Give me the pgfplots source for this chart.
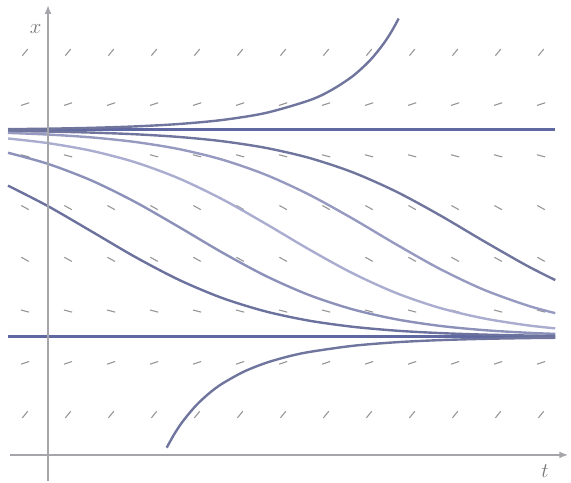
\documentclass[border=0pt]{standalone}
\usepackage{pgfplots}
\pgfplotsset{compat=1.18}
\usepackage{pgfplotstable}
\usetikzlibrary{arrows.meta}
\definecolor{eqc}{RGB}{95,104,160}
\definecolor{cA}{RGB}{112,117,158}
\definecolor{cB}{RGB}{150,154,192}
\definecolor{cC}{RGB}{170,173,207}
\definecolor{cD}{RGB}{140,145,185}
\definecolor{cE}{RGB}{108,114,158}
\definecolor{cU}{RGB}{112,117,158}
\definecolor{dashc}{RGB}{150,150,150}
\definecolor{axc}{RGB}{165,165,170}
\definecolor{labc}{RGB}{118,118,118}

% column positions of the slope field (t values), column index k
\pgfplotstableread{
t k
-0.264 0
0.230 1
0.725 2
1.219 3
1.713 4
2.208 5
2.702 6
3.196 7
3.690 8
4.185 9
4.679 10
5.173 11
5.667 12
}\cols

\begin{document}
\begin{tikzpicture}
\begin{axis}[
  scale only axis, width=571pt, height=481pt,
  xmin=-0.552, xmax=6.011, ymin=-0.696, ymax=1.628,
  hide axis, clip=false]
\path (rel axis cs:0,0) rectangle (rel axis cs:1,1);

% slope field
\addplot[dashc, line width=1.1pt, no markers, quiver={u=0.06173, v=0.03183}] table[x expr=\thisrow{t}-0.030865, y expr=1.359085] {\cols};
\addplot[dashc, line width=1.1pt, no markers, quiver={u=0.09265, v=0.013026}] table[x expr=\thisrow{t}-0.046325, y expr=1.118487] {\cols};
\addplot[dashc, line width=1.1pt, no markers, quiver={u=0.09455, v=-0.010340}] table[x expr=\thisrow{t}-0.047275, y expr=0.88017] {\cols};
\addplot[dashc, line width=1.1pt, no markers, quiver={u=0.08534, v=-0.019999}] table[x expr=\thisrow{t}-0.04267, y expr=0.635] {\cols};
\addplot[dashc, line width=1.1pt, no markers, quiver={u=0.08534, v=-0.019999}] table[x expr=\thisrow{t}-0.04267, y expr=0.385] {\cols};
\addplot[dashc, line width=1.1pt, no markers, quiver={u=0.09455, v=-0.010340}] table[x expr=\thisrow{t}-0.047275, y expr=0.13017] {\cols};
\addplot[dashc, line width=1.1pt, no markers, quiver={u=0.09265, v=0.013026}] table[x expr=\thisrow{t}-0.046325, y expr=-0.131513] {\cols};
\addplot[dashc, line width=1.1pt, no markers, quiver={u=0.06173, v=0.03183}] table[x expr=\thisrow{t}-0.030865, y expr=-0.390915] {\cols};

% equilibria
\addplot[eqc, line width=3pt, no markers] coordinates {(-0.46,1) (5.83,1)};
\addplot[eqc, line width=3pt, no markers] coordinates {(-0.46,0) (5.83,0)};

% solutions between equilibria
\addplot[cA, line width=2.4pt, no markers, smooth] coordinates {
(-0.46,0.99513) (0,0.99231) (0.5,0.98738) (1,0.97936) (1.5,0.96643) (2,0.94583) (2.5,0.91373) (3,0.86528) (3.5,0.79576) (4,0.70265) (4.5,0.58904) (5,0.46506) (5.5,0.34525) (5.83,0.27488)};
\addplot[cB, line width=2.4pt, no markers, smooth] coordinates {
(-0.46,0.98594) (0,0.97790) (0.5,0.96407) (1,0.94211) (1.5,0.90802) (2,0.85693) (2.5,0.78415) (3,0.68783) (3.5,0.57200) (4,0.44769) (4.5,0.32959) (5,0.22970) (5.5,0.15316) (5.83,0.11507)};
\addplot[cC, line width=2.4pt, no markers, smooth] coordinates {
(-0.46,0.95891) (0,0.93644) (0.5,0.89935) (1,0.84422) (1.5,0.76673) (2,0.66597) (2.5,0.54736) (3,0.42311) (3.5,0.30789) (4,0.21248) (4.5,0.14064) (5,0.09030) (5.5,0.05679) (5.83,0.04149)};
\addplot[cD, line width=2.4pt, no markers, smooth] coordinates {
(-0.46,0.88992) (0,0.83617) (0.5,0.75584) (1,0.65249) (1.5,0.53245) (2,0.40854) (2.5,0.29526) (3,0.20262) (3.5,0.13354) (4,0.08549) (4.5,0.05366) (5,0.03325) (5.5,0.02043) (5.83,0.01477)};
\addplot[cE, line width=2.4pt, no markers, smooth] coordinates {
(-0.46,0.73106) (0,0.63182) (0.5,0.51000) (1,0.38698) (1.5,0.27689) (2,0.18847) (2.5,0.12347) (3,0.07871) (3.5,0.04927) (4,0.03047) (4.5,0.01871) (5,0.01143) (5.5,0.00696) (5.83,0.00502)};

% above the upper equilibrium
\addplot[cU, line width=2.4pt, no markers, smooth] coordinates {
(-0.46,1.00394) (0,1.00626) (0.5,1.01036) (1,1.01720) (1.5,1.02868) (2,1.04817) (2.5,1.08199) (3,1.14277) (3.25,1.19106) (3.5,1.25941) (3.7,1.33614) (3.85,1.41302) (3.95,1.47719) (4.03,1.53832)};

% below the lower equilibrium
\addplot[cU, line width=2.4pt, no markers, smooth] coordinates {
(1.364,-0.53502) (1.45,-0.47020) (1.55,-0.40723) (1.7,-0.33169) (1.85,-0.27288) (2,-0.22627) (2.25,-0.16782) (2.5,-0.12602) (2.75,-0.09548) (3,-0.07282) (3.5,-0.04294) (4,-0.02561) (4.5,-0.01538) (5,-0.00927) (5.5,-0.00560) (5.83,-0.00402)};

% axes
\draw[axc, line width=2pt, -{Latex[length=9pt,width=7pt]}] (axis cs:0,-0.696) -- (axis cs:0,1.604);
\draw[axc, line width=2pt, -{Latex[length=9pt,width=7pt]}] (axis cs:-0.437,-0.570) -- (axis cs:5.98,-0.570);
\node[labc, font=\fontsize{21}{21}\selectfont] at (axis cs:-0.143,1.486) {$x$};
\node[labc, font=\fontsize{21}{21}\selectfont] at (axis cs:5.713,-0.647) {$t$};
\end{axis}
\end{tikzpicture}
\end{document}
